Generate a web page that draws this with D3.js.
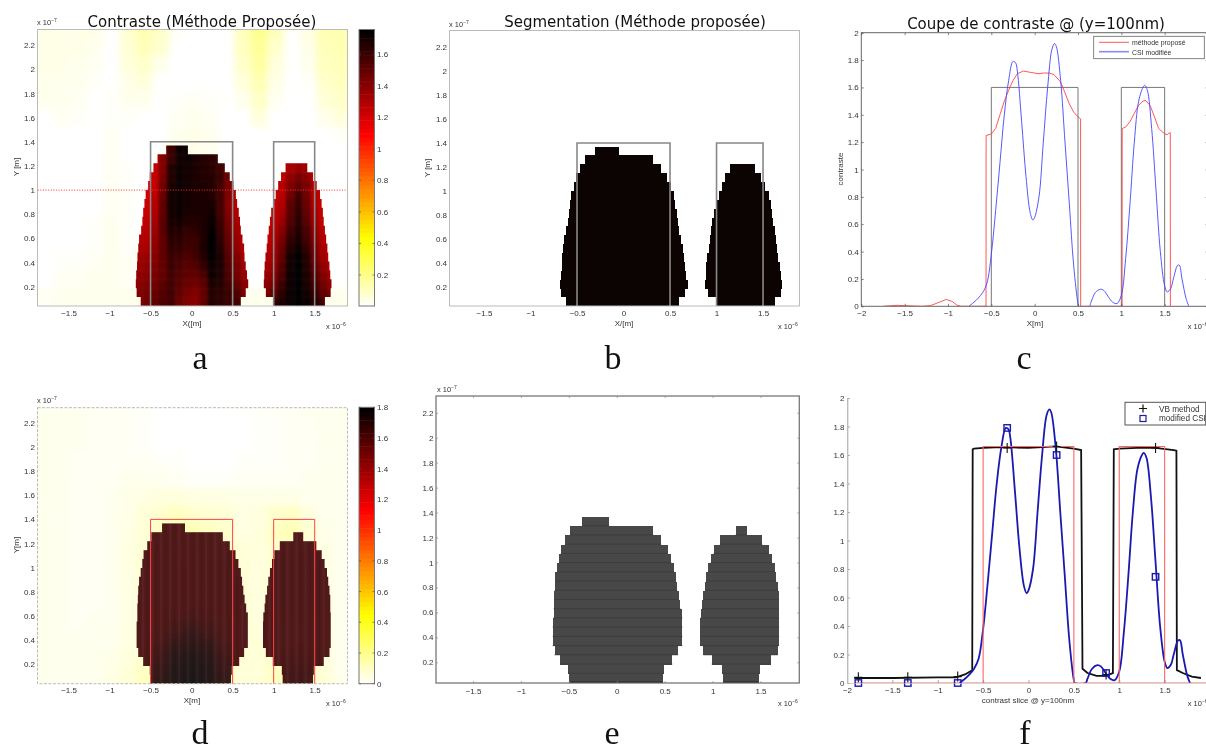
<!DOCTYPE html>
<html><head><meta charset="utf-8">
<script src="https://cdnjs.cloudflare.com/ajax/libs/d3/7.8.5/d3.min.js"></script>
<style>
html,body{margin:0;padding:0;background:#fff;overflow:hidden}
svg{display:block;filter:blur(0.35px)}
text{font-family:"Liberation Sans",Arial,sans-serif;fill:#333}
.title{font-family:"DejaVu Sans",sans-serif;fill:#111}
.letter{font-family:"Liberation Serif",serif;fill:#111}
</style></head><body>
<svg id="c" width="1206" height="746"></svg>
<script>
// ---------- tick labels ----------
const imgXTicks=[-1.5,-1,-0.5,0,0.5,1,1.5];
const imgYTicks=[0.2,0.4,0.6,0.8,1,1.2,1.4,1.6,1.8,2,2.2];
const lineXTicks=[-2,-1.5,-1,-0.5,0,0.5,1,1.5];
const lineYTicks=[0,0.2,0.4,0.6,0.8,1,1.2,1.4,1.6,1.8,2];
const barTicksA=[0.2,0.4,0.6,0.8,1,1.2,1.4,1.6];
const barTicksD=[0,0.2,0.4,0.6,0.8,1,1.2,1.4,1.6,1.8];

// ---------- true object (x in 1e-6 m, contrast) ----------
const trueBlocks=[[-0.5,0.5],[1,1.5]];

// ---------- segmented shape extents per grid row, panels a / b ----------
const abLeftL=[-.62,-.67,-.68,-.675,-.665,-.66,-.65,-.64,-.615,-.60,-.59,-.575,-.56,-.53,-.51,-.465,-.415,-.31];
const abLeftR=[.60,.66,.69,.675,.66,.645,.64,.62,.60,.59,.575,.555,.54,.51,.465,.405,.32,-.045];
const abRightL=[1.0,.905,.88,.885,.89,.90,.915,.925,.94,.955,.97,1.0,1.025,1.055,1.09,1.145];
const abRightR=[1.625,1.695,1.705,1.69,1.68,1.665,1.655,1.64,1.625,1.61,1.60,1.585,1.565,1.525,1.48,1.41];

// ---------- segmented shape extents per grid row, panels d / e ----------
const deLeftL=[-.50,-.51,-.59,-.65,-.67,-.67,-.67,-.66,-.66,-.655,-.65,-.64,-.62,-.60,-.585,-.54,-.49,-.36];
const deLeftR=[.48,.49,.58,.64,.685,.685,.685,.685,.665,.645,.63,.615,.60,.57,.535,.465,.38,-.08];
const deRightL=[1.11,1.10,.99,.905,.87,.87,.87,.875,.89,.90,.92,.935,.955,.98,1.01,1.075,1.24];
const deRightR=[1.48,1.49,1.61,1.68,1.695,1.695,1.695,1.695,1.69,1.69,1.68,1.665,1.65,1.62,1.585,1.52,1.36];

// ---------- contrast inside shapes, panel a (hundredths), bottom row first ----------
const aLeftValues=[
[144,146,150,155,158,148,142,140,150,166,164,160,158,150],
[142,144,148,154,158,150,144,142,150,166,164,160,155,144],
[140,142,146,152,158,152,148,146,152,168,166,158,150,140],
[138,140,144,150,158,154,150,150,156,172,168,155,146,136],
[136,138,142,150,160,156,152,154,162,172,168,154,144,134],
[134,136,140,150,160,158,155,158,166,174,168,152,142,132],
[132,132,138,150,162,162,158,160,168,175,166,150,138,130],
[130,130,136,150,164,164,160,160,168,175,164,148,136,128],
[128,128,134,152,166,166,162,164,168,174,162,146,134,126],
[126,126,132,152,168,170,166,166,168,172,160,144,132,125],
[124,124,130,150,170,172,168,168,168,170,158,142,130,124],
[123,123,128,150,170,172,170,168,168,168,158,140,128,123],
[123,122,126,148,170,172,170,168,168,166,158,142,128,123],
[123,122,125,146,168,172,170,168,168,166,158,144,128,123],
[123,122,124,144,166,172,170,168,166,166,160,146,130,123],
[123,124,126,142,166,172,170,168,166,164,160,148,132,123],
[123,124,128,142,160,170,172,168,166,164,160,150,132,123],
[123,124,130,142,160,172,172,168,166,164,160,150,132,123]];
const aRightValues=[
[150,160,168,172,175,172,166,158,150],
[144,150,164,172,175,170,162,150,144],
[140,144,160,172,175,168,158,146,138],
[136,140,156,172,175,168,154,142,134],
[133,136,154,170,175,166,150,138,130],
[130,134,150,170,174,166,146,134,128],
[128,132,148,166,172,162,144,132,126],
[126,130,144,162,168,158,140,130,125],
[125,128,140,158,166,156,138,128,124],
[124,126,136,154,164,152,134,126,124],
[124,125,132,152,162,150,132,125,124],
[124,124,130,150,160,148,130,124,124],
[124,124,128,146,158,146,128,124,124],
[124,124,128,142,150,144,128,124,124],
[124,124,126,138,144,140,126,124,124],
[124,124,126,132,136,134,126,124,124]];
// ---------- background contrast, panel a (hundredths), top band first ----------
const aBackground=[
[4,4,4,4,0,8,13,10,1,0,0,0,12,20,12,0,5,13,13],
[4,4,4,3,0,7,12,8,0,0,0,0,11,18,9,0,4,12,13],
[4,4,3,2,0,6,9,3,0,0,0,0,9,16,6,0,3,11,12],
[3,3,3,1,0,4,6,0,0,0,0,0,6,13,4,0,1,9,11],
[3,3,2,0,1,3,3,0,1,2,1,0,3,10,2,0,0,7,9],
[0,2,1,0,1,1,0,0,2,3,2,0,0,6,0,0,0,3,6],
[0,0,0,0,2,0,0,0,3,4,3,0,0,0,0,0,0,0,1],
[0,0,0,0,2,0,0,1,3,4,3,0,0,0,0,0,0,0,0],
[0,0,0,0,2,1,0,0,0,0,0,0,0,0,0,0,0,0,0],
[0,0,0,0,2,1,0,0,0,0,0,0,0,0,0,0,0,0,0],
[0,0,0,0,2,1,0,0,0,0,0,0,0,0,0,0,0,0,0],
[0,0,0,1,3,1,0,0,0,0,0,0,0,0,0,0,0,0,0],
[0,0,0,1,3,1,0,0,0,0,0,0,0,0,0,0,0,0,0],
[0,1,1,2,3,2,0,0,0,0,0,0,0,0,0,0,0,0,0],
[0,2,2,3,3,2,0,0,0,0,0,0,0,0,0,0,0,0,0],
[2,3,3,3,3,3,3,3,3,3,3,3,3,3,3,3,3,3,3]];

// ---------- panel d ----------
const dBackground=[
[3,3,3,2,2,2,1,0,0,0,0,0,1,1,2,2,3,3,3],
[3,3,3,2,2,2,1,0,0,0,0,0,0,1,1,2,2,3,3],
[3,3,3,2,2,2,1,0,0,0,0,0,0,1,1,2,2,3,3],
[3,3,2,2,2,2,2,1,1,0,0,0,1,1,1,2,2,3,3],
[3,3,2,2,2,3,3,3,2,1,1,1,2,2,2,2,3,3,3],
[3,3,2,2,3,4,5,6,6,5,5,5,4,4,4,4,3,3,3],
[3,3,2,2,3,4,7,9,11,9,8,7,5,6,9,10,6,3,3],
[3,3,2,2,3,5,7,11,13,13,11,9,5,6,11,13,8,4,3],
[3,3,2,2,3,5,8,9,9,9,9,9,7,6,9,9,7,5,3],
[3,3,2,2,3,5,8,9,9,9,9,9,7,6,9,9,7,5,3],
[3,3,2,2,3,5,8,9,9,9,9,9,7,6,9,9,7,5,3],
[3,3,2,2,3,5,8,9,9,9,9,9,7,6,9,9,7,5,3],
[3,3,2,3,3,5,8,9,9,9,9,9,7,6,9,9,7,5,3],
[3,3,3,3,3,5,8,9,9,9,9,9,7,7,9,9,7,6,3],
[3,3,3,3,4,6,9,9,9,9,9,9,7,7,9,9,9,6,3],
[3,3,3,3,5,7,11,11,11,11,11,11,7,7,11,11,11,7,3]];
const dLeftValues=[
[160,170,176,178,176,170,160],[160,168,175,177,175,168,160],[160,166,174,176,174,166,160],
[160,164,172,175,172,164,160],[160,162,170,172,170,162,160],[160,161,166,170,166,161,160],
[160,160,163,166,163,160,160],[160,160,161,162,161,160,160],[160,160,160,160,160,160,160],
[160,160,160,160,160,160,160],[160,160,160,160,160,160,160],[160,160,160,160,160,160,160],
[160,160,160,160,160,160,160],[160,160,160,160,160,160,160],[160,160,160,160,160,160,160],
[160,160,160,160,160,160,160],[160,160,160,160,160,160,160],[160,160,160,160,160,160,160]];
const dRightValues=[
[160,163,165,163,160],[160,162,164,162,160],[160,161,162,161,160],[160,160,161,160,160],
[160,160,160,160,160],[160,160,160,160,160],[160,160,160,160,160],[160,160,160,160,160],
[160,160,160,160,160],[160,160,160,160,160],[160,160,160,160,160],[160,160,160,160,160],
[160,160,160,160,160],[160,160,160,160,160],[160,160,160,160,160],[160,160,160,160,160],
[160,160,160,160,160]];

// ---------- slices ----------
const csiX=[-.76,-.7,-.65,-.6,-.55,-.5,-.45,-.4,-.35,-.3,-.25,-.22,-.2,-.15,-.1,-.05,-.02,0,.05,.1,.15,.2,.23,.25,.3,.35,.4,.45,.5,.51,.63,.65,.7,.76,.8,.85,.9,.95,1,1.05,1.1,1.15,1.2,1.25,1.27,1.3,1.35,1.4,1.45,1.5,1.53,1.57,1.6,1.65,1.67,1.7,1.75,1.78];
const csiY=[0,.03,.06,.1,.17,.38,.7,1.05,1.4,1.65,1.79,1.78,1.72,1.35,.95,.68,.63,.65,.8,1.2,1.6,1.88,1.92,1.9,1.65,1.2,.75,.3,.02,0,0,.03,.1,.125,.115,.07,.03,.02,.08,.35,.75,1.2,1.5,1.6,1.615,1.58,1.3,.85,.4,.15,.105,.13,.2,.3,.3,.2,.05,0];
const proposedX=[-1.75,-1.6,-1.5,-1.3,-1.2,-1.1,-1.02,-.95,-.9,-.85,-.561,-.56,-.55,-.5,-.45,-.4,-.35,-.3,-.25,-.2,-.13,-.05,0,.05,.1,.17,.22,.3,.35,.4,.45,.5,.53,.531,1.009,1.01,1.05,1.1,1.15,1.2,1.25,1.28,1.33,1.38,1.43,1.5,1.53,1.56,1.565,1.566];
const proposedY=[0,.007,.005,0,.005,.03,.05,.035,.01,0,0,1.25,1.25,1.26,1.3,1.4,1.5,1.58,1.65,1.7,1.72,1.71,1.705,1.70,1.705,1.705,1.695,1.64,1.56,1.48,1.42,1.385,1.37,0,0,1.3,1.31,1.35,1.41,1.47,1.5,1.505,1.47,1.39,1.3,1.26,1.255,1.27,1.27,0];
const vbX=[-1.92,-1.5,-1,-.8,-.7,-.62,-.615,-.6,-.5,-.3,0,.3,.5,.58,.595,.65,.75,.85,.93,.94,1,1.2,1.4,1.6,1.63,1.635,1.7,1.8,1.9];
const vbY=[.035,.035,.04,.04,.06,.09,1.64,1.645,1.65,1.655,1.65,1.66,1.645,1.635,.1,.07,.05,.05,.07,1.64,1.645,1.65,1.65,1.635,1.63,.09,.07,.045,.035];
const markerX=[-1.875,-1.33,-.78,-.235,.31,.855,1.4];
const markerVB=[.04,.04,.045,1.65,1.66,.06,1.65];
const markerCSI=[0,0,0,1.79,1.6,.07,.745];

// ---------- colormap: flipped "hot" ----------
const hotStops=[0,.25,.625,1], hotColors=["#ffffff","#ffff00","#ff0000","#000000"];

const svg=d3.select("#c");
const fmt=d=>String(d).replace("-","\u2212");
const defs=svg.append("defs");
let clipN=0;

function frame(xd,xr,yd,yr){
  const x=d3.scaleLinear().domain(xd).range(xr), y=d3.scaleLinear().domain(yd).range(yr);
  const id="cl"+(clipN++);
  defs.append("clipPath").attr("id",id).append("rect").attr("x",xr[0]).attr("y",yr[1]).attr("width",xr[1]-xr[0]).attr("height",yr[0]-yr[1]);
  const g=svg.append("g");
  const plot=g.append("g").attr("clip-path",`url(#${id})`);
  return {x,y,g,plot,xr,yr};
}
function background(f,matrix,color,x0,colStep,y0,bandH){
  const n=matrix.length, layer=f.plot.append("g").style("filter","blur(3.5px)");
  matrix.forEach((row,i)=>row.forEach((v,j)=>{
    const a=x0+j*colStep-(j==0?.4:0), b=x0+(j+1)*colStep+(j==row.length-1?.4:0);
    const k=n-1-i, lo=y0+k*bandH-(k==0?.4:0), hi=y0+(k+1)*bandH+(i==0?.4:0);
    layer.append("rect").attr("x",f.x(a)).attr("width",f.x(b)-f.x(a)).attr("y",f.y(hi)).attr("height",f.y(lo)-f.y(hi)).attr("fill",color(v/100));
  }));
}
// heat cells, softly blurred and clipped to the stepped shape of the segmented rows
function heat(f,L,R,y0,rh,x0,step,matrix,color,blurPx){
  const id="cl"+(clipN++), cp=defs.append("clipPath").attr("id",id);
  L.forEach((l,k)=>cp.append("rect").attr("x",f.x(l)).attr("width",f.x(R[k])-f.x(l))
    .attr("y",f.y(y0+(k+1)*rh)).attr("height",f.y(y0+k*rh)-f.y(y0+(k+1)*rh)).attr("shape-rendering","crispEdges"));
  const layer=f.plot.append("g").attr("clip-path",`url(#${id})`).append("g").style("filter",`blur(${blurPx}px)`);
  matrix.forEach((row,k)=>row.forEach((v,j)=>{
    const a=x0+j*step-(j==0?.2:0), b=x0+(j+1)*step+(j==row.length-1?.2:0);
    const lo=y0+k*rh-(k==0?.3:0), hi=y0+(k+1)*rh+(k==matrix.length-1?.3:0);
    layer.append("rect").attr("x",f.x(a)).attr("width",f.x(b)-f.x(a)+.5).attr("y",f.y(hi)).attr("height",f.y(lo)-f.y(hi)+.5).attr("fill",color(v/100));
  }));
}
function solid(f,L,R,y0,rh,fill){
  const layer=f.plot.append("g").attr("shape-rendering","crispEdges");
  L.forEach((l,k)=>layer.append("rect").attr("x",f.x(l)).attr("width",f.x(R[k])-f.x(l))
    .attr("y",f.y(y0+(k+1)*rh)).attr("height",f.y(y0+k*rh)-f.y(y0+(k+1)*rh)).attr("fill",fill));
}
function stripes(f,L,R,y0,rh,step){
  const layer=f.plot.append("g");
  L.forEach((l,k)=>{
    const r=R[k];
    layer.append("rect").attr("x",f.x(l)).attr("width",f.x(r)-f.x(l))
      .attr("y",f.y(y0+(k+1)*rh)).attr("height",f.y(y0+k*rh)-f.y(y0+(k+1)*rh)).attr("fill","#606060").attr("opacity",.26).attr("shape-rendering","crispEdges");
    d3.range(Math.ceil(l/step),Math.floor(r/step)).forEach(i=>{
      layer.append("rect").attr("x",f.x(i*step)).attr("width",(f.x(step)-f.x(0))*.5)
       .attr("y",f.y(y0+(k+1)*rh)).attr("height",f.y(y0+k*rh)-f.y(y0+(k+1)*rh))
       .attr("fill",i%2?"#ffffff":"#000000").attr("opacity",i%2?.04:.07);
    });
  });
}
function rowLines(f,L,R,y0,rh){
  L.forEach((l,k)=>{
    f.plot.append("line").attr("x1",f.x(l)).attr("x2",f.x(R[k])).attr("y1",f.y(y0+k*rh)-.5).attr("y2",f.y(y0+k*rh)-.5)
      .attr("stroke",k==0?"#000":"#3a3a3a").attr("stroke-width",k==0?1.6:.7);
  });
}
function axes(f,xt,yt,o={}){
  const xs=o.tick||0, gx=f.g.append("g").attr("transform",`translate(0,${f.yr[0]})`)
    .call(d3.axisBottom(f.x).tickValues(xt).tickFormat(fmt).tickSizeInner(-xs).tickSizeOuter(0).tickPadding(o.padX||4));
  const gy=f.g.append("g").attr("transform",`translate(${f.xr[0]},0)`)
    .call(d3.axisLeft(f.y).tickValues(yt).tickFormat(fmt).tickSizeInner(-xs).tickSizeOuter(0).tickPadding(o.padY||2.5));
  [gx,gy].forEach(a=>{a.select(".domain").remove();a.selectAll("text").attr("font-size",8).attr("font-family",'"Liberation Sans"').attr("fill","#333");
    a.selectAll("line").attr("stroke",o.tickColor||"#666").attr("stroke-width",.7);});
  if(o.mirror){
    const gt=f.g.append("g").attr("transform",`translate(0,${f.yr[1]})`).call(d3.axisTop(f.x).tickValues(xt).tickFormat("").tickSizeInner(-xs).tickSizeOuter(0));
    const gr=f.g.append("g").attr("transform",`translate(${f.xr[1]},0)`).call(d3.axisRight(f.y).tickValues(yt).tickFormat("").tickSizeInner(-xs).tickSizeOuter(0));
    [gt,gr].forEach(a=>{a.select(".domain").remove();a.selectAll("line").attr("stroke",o.tickColor||"#666").attr("stroke-width",.7);});
  }
}
function box(f,stroke,w,dash){
  f.g.append("rect").attr("x",f.xr[0]).attr("y",f.yr[1]).attr("width",f.xr[1]-f.xr[0]).attr("height",f.yr[0]-f.yr[1])
    .attr("fill","none").attr("stroke",stroke).attr("stroke-width",w).attr("stroke-dasharray",dash||null);
}
function label(t,x,y,size,o={}){
  const e=svg.append("text").attr("x",x).attr("y",y).attr("font-size",size).attr("text-anchor",o.anchor||"middle").text(t).attr("class",o.cls||null);
  if(o.rot) e.attr("transform",`rotate(${o.rot} ${x} ${y})`);
  return e;
}
function expo(x,y,p){
  const e=svg.append("text").attr("x",x).attr("y",y).attr("font-size",7.5);
  e.append("tspan").text("x 10");
  e.append("tspan").attr("dy",-3).attr("font-size",5).text("\u2212"+p);
}
function blocks(f,top,stroke,w,bottom){
  trueBlocks.forEach(b=>{
    f.plot.append("path").attr("fill","none").attr("stroke",stroke).attr("stroke-width",w)
      .attr("d",d3.line().x(d=>f.x(d[0])).y(d=>f.y(d[1]))([[b[0],bottom],[b[0],top],[b[1],top],[b[1],bottom]]));
  });
}
function colorbar(x0,x1,y0,y1,dom,ticks,color){
  const y=d3.scaleLinear().domain(dom).range([y0,y1]), g=svg.append("g");
  const n=64, edges=d3.range(n+1).map(i=>dom[0]+(dom[1]-dom[0])*i/n);
  edges.slice(0,n).forEach((e,i)=>g.append("rect").attr("x",x0).attr("width",x1-x0).attr("y",y(edges[i+1])).attr("height",y(e)-y(edges[i+1])+.5).attr("fill",color((e+edges[i+1])/2)));
  g.append("rect").attr("x",x0).attr("y",y1).attr("width",x1-x0).attr("height",y0-y1).attr("fill","none").attr("stroke","#777").attr("stroke-width",1);
  const a=g.append("g").attr("transform",`translate(${x1},0)`).call(d3.axisRight(y).tickValues(ticks).tickFormat(fmt).tickSizeInner(0).tickSizeOuter(0).tickPadding(2.5));
  a.select(".domain").remove();
  a.selectAll("text").attr("font-size",8).attr("font-family",'"Liberation Sans"').attr("fill","#333");
  ticks.forEach(t=>{
    g.append("line").attr("x1",x1-2).attr("x2",x1).attr("y1",y(t)).attr("y2",y(t)).attr("stroke","#555").attr("stroke-width",.7);
    g.append("line").attr("x1",x0).attr("x2",x0+2).attr("y1",y(t)).attr("y2",y(t)).attr("stroke","#555").attr("stroke-width",.7);
  });
}
const colorA=d3.scaleLinear().domain(hotStops.map(s=>s*1.75)).range(hotColors);
const colorD=d3.scaleLinear().domain(hotStops.map(s=>s*1.8)).range(hotColors);

// ========== panel a ==========
{
  const f=frame([-1.878,1.9],[37.5,347.5],[.04,2.33],[306,29.5]);
  const rh=.0739;
  background(f,aBackground,colorA,-1.875,.2,.04,rh*2);
  heat(f,abLeftL,abLeftR,.04,rh,-.7,.1,aLeftValues,colorA,1.6);
  heat(f,abRightL,abRightR,.04,rh,.85,.1,aRightValues,colorA,1.6);
  blocks(f,1.4,"#888",1.6,0);
  f.plot.append("line").attr("x1",f.x(-1.875)).attr("x2",f.x(1.9)).attr("y1",f.y(1)).attr("y2",f.y(1))
    .attr("stroke","#f33").attr("stroke-width",1).attr("stroke-dasharray","1 1.6");
  box(f,"#bbb",1);
  axes(f,imgXTicks,imgYTicks);
  colorbar(359,374.5,306,29.5,[.003,1.757],barTicksA,colorA);
  label("Contraste (M\u00e9thode Propos\u00e9e)",202,27,15,{cls:"title"});
  label("Y [m]",19,167,8,{rot:-90});
  label("X([m]",192,326,8);
  expo(37,25,7); expo(326,329,6);
  label("a",200,369,34,{cls:"letter"});
}
// ========== panel b ==========
{
  const f=frame([-1.871,1.892],[449.5,799.5],[.042,2.3375],[306,30.5]);
  const rh=.0739;
  solid(f,abLeftL,abLeftR,.04,rh,"#0c0303");
  solid(f,abRightL,abRightR,.04,rh,"#0c0303");
  blocks(f,1.4,"#888",1.6,0);
  box(f,"#bbb",1);
  axes(f,imgXTicks,imgYTicks);
  label("Segmentation (M\u00e9thode propos\u00e9e)",635,27,15,{cls:"title"});
  label("Y [m]",430,168,8,{rot:-90});
  label("X/[m]",624,326,8);
  expo(449,27,7); expo(778,329,6);
  label("b",613,369,34,{cls:"letter"});
}
// ========== panel c ==========
{
  const f=frame([-2,2],[861.3,1208],[0,2],[306.3,32.7]);
  const line=d3.line().x(d=>f.x(d[0])).y(d=>f.y(d[1]));
  blocks(f,1.6,"#777",1,0);
  f.plot.append("path").attr("fill","none").attr("stroke","#f44").attr("stroke-width",.9)
    .attr("d",line(d3.zip(proposedX,proposedY)));
  f.plot.append("path").attr("fill","none").attr("stroke","#44f").attr("stroke-width",.9)
    .attr("d",line.curve(d3.curveCatmullRom)(d3.zip(csiX,csiY)));
  box(f,"#666",1);
  axes(f,lineXTicks,lineYTicks,{tick:2.5,mirror:true,tickColor:"#555"});
  const lg=svg.append("g");
  lg.append("rect").attr("x",1093.7).attr("y",36.3).attr("width",110.6).attr("height",22.4).attr("fill","#fff").attr("stroke","#666").attr("stroke-width",.8);
  lg.append("line").attr("x1",1099).attr("x2",1129).attr("y1",42.3).attr("y2",42.3).attr("stroke","#f44").attr("stroke-width",.9);
  lg.append("line").attr("x1",1099).attr("x2",1129).attr("y1",51.7).attr("y2",51.7).attr("stroke","#88f").attr("stroke-width",1.6);
  label("m\u00e9thode propos\u00e9",1132,45,6.9,{anchor:"start"});
  label("CSI modifi\u00e9e",1132,54.5,6.9,{anchor:"start"});
  label("Coupe de contraste @ (y=100nm)",1036,29,15,{cls:"title"});
  label("contraste",843,169,8,{rot:-90});
  label("X[m]",1035,326,8);
  expo(1187.7,329,6);
  label("c",1024,369,34,{cls:"letter"});
}
// ========== panel d ==========
{
  const f=frame([-1.878,1.9],[37.5,347.5],[.036,2.327],[683.7,407.7]);
  const rh=.0739;
  background(f,dBackground,colorD,-1.875,.2,.036,rh*2);
  heat(f,deLeftL,deLeftR,.036,rh,-.7,.2,dLeftValues,colorD,3);
  heat(f,deRightL,deRightR,.036,rh,.8,.2,dRightValues,colorD,3);
  stripes(f,deLeftL,deLeftR,.036,rh,.055);
  stripes(f,deRightL,deRightR,.036,rh,.055);
  blocks(f,1.4,"#f44",1,0);
  box(f,"#bbb",1,"3 1.5");
  axes(f,imgXTicks,imgYTicks);
  colorbar(359,374.5,683.7,407.3,[0,1.8],barTicksD,colorD);
  label("Y[m]",19,545,8,{rot:-90});
  label("X[m]",192,703,8);
  expo(37,403,7); expo(326,706,6);
  label("d",200,744,34,{cls:"letter"});
}
// ========== panel e ==========
{
  const f=frame([-1.887,1.905],[436,799.3],[.034,2.334],[683,396]);
  const rh=.0739;
  solid(f,deLeftL,deLeftR,.034,rh,"#484848");
  solid(f,deRightL,deRightR,.034,rh,"#484848");
  rowLines(f,deLeftL,deLeftR,.034,rh);
  rowLines(f,deRightL,deRightR,.034,rh);
  box(f,"#777",1.3);
  axes(f,imgXTicks,imgYTicks,{tick:2,mirror:true,tickColor:"#888",padX:5});
  expo(437,392,7); expo(778,706,6);
  label("e",612,744,34,{cls:"letter"});
}
// ========== panel f ==========
{
  const f=frame([-2,2.0],[847,1210],[0,2],[683,398]);
  const line=d3.line().x(d=>f.x(d[0])).y(d=>f.y(d[1]));
  f.plot.append("path").attr("fill","none").attr("stroke","#111").attr("stroke-width",1.8).attr("d",line(d3.zip(vbX,vbY)));
  f.plot.append("path").attr("fill","none").attr("stroke","#1a1ab0").attr("stroke-width",1.8)
    .attr("d",line.curve(d3.curveCatmullRom)(d3.zip(csiX,csiY)));
  line.curve(d3.curveLinear);
  f.plot.append("line").attr("x1",f.x(-1.92)).attr("x2",f.x(2)).attr("y1",f.y(0)).attr("y2",f.y(0)).attr("stroke","#f66").attr("stroke-width",1.1);
  blocks(f,1.66,"#f66",1.1,0);
  const over=svg.append("g");
  d3.zip(markerX,markerVB).forEach(d=>{
    over.append("path").attr("fill","none").attr("stroke","#111").attr("stroke-width",1.1)
      .attr("d",`M${f.x(d[0])-4},${f.y(d[1])}h8M${f.x(d[0])},${f.y(d[1])-5}v10`);
  });
  d3.zip(markerX,markerCSI).forEach(d=>{
    over.append("rect").attr("x",f.x(d[0])-3.2).attr("y",f.y(d[1])-3.2).attr("width",6.4).attr("height",6.4)
      .attr("fill","none").attr("stroke","#1a1ab0").attr("stroke-width",1.4);
  });
  svg.append("line").attr("x1",847.7).attr("x2",847.7).attr("y1",398).attr("y2",683).attr("stroke","#bbb").attr("stroke-width",1.4);
  svg.append("line").attr("x1",847).attr("x2",1206).attr("y1",683.5).attr("y2",683.5).attr("stroke","#bbb").attr("stroke-width",.6);
  axes(f,lineXTicks,lineYTicks,{tick:3,tickColor:"#888"});
  const lg=svg.append("g");
  lg.append("rect").attr("x",1125).attr("y",402.3).attr("width",80.7).attr("height",22.7).attr("fill","#fff").attr("stroke","#555").attr("stroke-width",1);
  lg.append("path").attr("d","M1139,408.5h8M1143,404.5v8").attr("stroke","#111").attr("stroke-width",1.2);
  lg.append("rect").attr("x",1140).attr("y",415.5).attr("width",6).attr("height",6).attr("fill","none").attr("stroke","#1a1ab0").attr("stroke-width",1.2);
  label("VB method",1159,411.5,8.2,{anchor:"start"});
  label("modified CSI",1159,421,8.2,{anchor:"start"});
  label("contrast slice @ y=100nm",1028,703,8);
  expo(1187.7,706,6);
  label("f",1025,744,34,{cls:"letter"});
}
</script>
</body></html>
